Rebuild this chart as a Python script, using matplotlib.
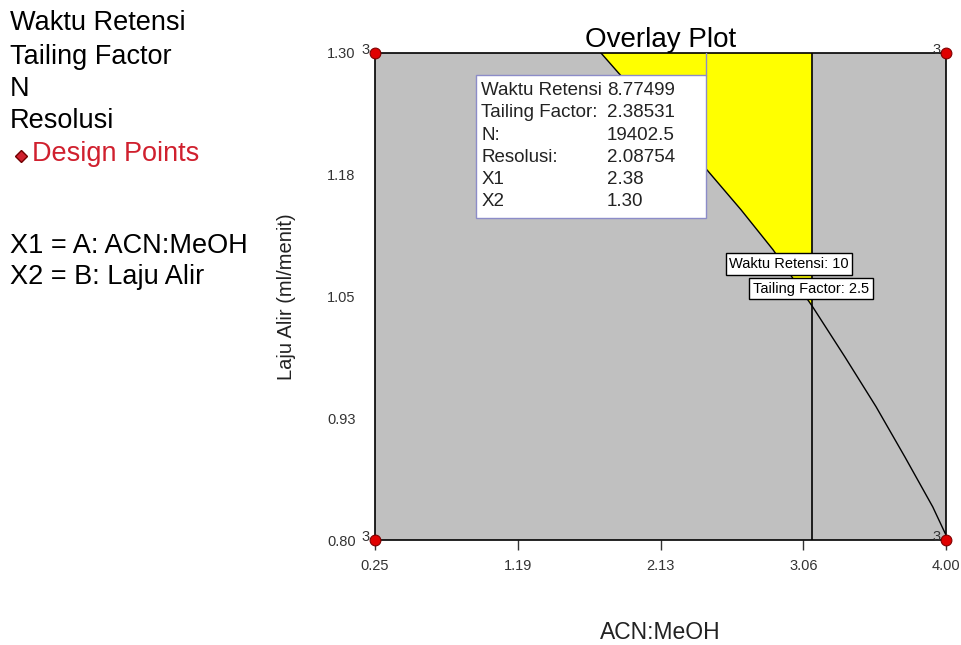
import numpy as np
import matplotlib.pyplot as plt
from matplotlib.patches import Rectangle

plt.rcParams['font.family'] = ['Liberation Sans', 'DejaVu Sans']

# factor ranges
x1_lim = [0.25, 4.00]
x2_lim = [0.80, 1.30]
x_ticks = [0.25, 1.1875, 2.125, 3.0625, 4.00]
x_tick_labels = ["0.25", "1.19", "2.13", "3.06", "4.00"]
y_ticks = [0.80, 0.925, 1.05, 1.175, 1.30]
y_tick_labels = ["0.80", "0.93", "1.05", "1.18", "1.30"]

# design points (4 corners, 3 replicates each)
design_x = [0.25, 4.00, 0.25, 4.00]
design_y = [0.80, 0.80, 1.30, 1.30]
design_n = [3, 3, 3, 3]

# contour: Waktu Retensi = 10
rt_x = [1.734, 1.852, 2.135, 2.430, 2.654, 2.864, 3.126, 3.336, 3.540, 3.731, 3.913, 4.00]
rt_y = [1.300, 1.279, 1.231, 1.180, 1.139, 1.098, 1.039, 0.988, 0.937, 0.885, 0.834, 0.805]
# contour: Tailing Factor = 2.5 (vertical)
tf_x = 3.12

# flagged point
flag_names = ["Waktu Retensi", "Tailing Factor:", "N:", "Resolusi:", "X1", "X2"]
flag_values = ["8.77499", "2.38531", "19402.5", "2.08754", "2.38", "1.30"]

fig = plt.figure(figsize=(9.61, 6.45), dpi=100)
ax = fig.add_axes([375/961, 1-540/645, 571/961, 487/645])
ax.set_facecolor('#c0c0c0')
ax.set_xlim(x1_lim)
ax.set_ylim(x2_lim)

# sweet spot: right of the RT contour, left of the TF contour
cx = np.array(rt_x)
cy = np.array(rt_y)
keep = cx <= tf_x
poly_x = list(cx[keep]) + [tf_x, tf_x]
poly_y = list(cy[keep]) + [np.interp(tf_x, cx, cy), x2_lim[1]]
ax.fill(poly_x, poly_y, color='#ffff00', zorder=1, lw=0)

ax.plot(rt_x, rt_y, color='black', lw=1, zorder=2)
ax.axvline(tf_x, color='black', lw=1.2, zorder=2)

for s in ax.spines.values():
    s.set_linewidth(1.2)

ax.set_xticks(x_ticks)
ax.set_xticklabels(x_tick_labels)
ax.set_yticks(y_ticks)
ax.set_yticklabels(y_tick_labels)
ax.tick_params(direction='out', length=7, width=1, labelsize=10.5, colors='#333333', pad=7)
ax.tick_params(axis='y', length=0, pad=14)

ax.set_xlabel("ACN:MeOH", fontsize=16.5, labelpad=34, color='#222222')
ax.set_ylabel("Laju Alir (ml/menit)", fontsize=14.5, labelpad=22, color='#222222')
ax.set_title("Overlay Plot", fontsize=20, pad=4)

ax.scatter(design_x, design_y, s=60, color='#e00000', edgecolor='#800000',
           lw=0.8, zorder=6, clip_on=False)
for dx, dy, n in zip(design_x, design_y, design_n):
    ax.annotate(str(n), (dx, dy), xytext=(-4, 2), textcoords='offset points',
                ha='right', va='center', fontsize=10.5, color='#333333', zorder=6)

# flag box
ax.add_patch(Rectangle((0.177, 0.661), 0.580 - 0.177, 0.955 - 0.661,
                       transform=ax.transAxes, facecolor='white',
                       edgecolor='#8c8cc8', lw=1, zorder=4))
ax.plot([0.580, 0.580], [0.955, 1.0], transform=ax.transAxes,
        color='#8c8cc8', lw=1, zorder=4)
for i, (nm, val) in enumerate(zip(flag_names, flag_values)):
    yy = 0.922 - i * 0.0452
    ax.text(0.186, yy, nm, transform=ax.transAxes, fontsize=13.5,
            va='center', zorder=5, color='#222222')
    ax.text(0.406, yy, val, transform=ax.transAxes, fontsize=13.5,
            va='center', zorder=5, color='#222222')

# contour labels
lbl = dict(fontsize=10.5, ha='center', va='center', zorder=5,
           bbox=dict(boxstyle='square,pad=0.25', facecolor='white', edgecolor='black', lw=1))
ax.text(2.969, 1.0834, "Waktu Retensi: 10", **lbl)
ax.text(3.113, 1.0582, "Tailing Factor: 2.5", **lbl)

# left-side legend
fs = 19.5
fig.text(10/961, 1-23/645, "Waktu Retensi", fontsize=fs, va='center')
fig.text(10/961, 1-57/645, "Tailing Factor", fontsize=fs, va='center')
fig.text(10/961, 1-89/645, "N", fontsize=fs, va='center')
fig.text(10/961, 1-121/645, "Resolusi", fontsize=fs, va='center')
fig.text(32/961, 1-154/645, "Design Points", fontsize=fs, va='center', color='#d0202e')
fig.lines.append(plt.Line2D([21/961], [1-156/645], marker='D', markersize=6,
                            color='#d0202e', markeredgecolor='#700000',
                            transform=fig.transFigure))
fig.text(10/961, 1-246/645, "X1 = A: ACN:MeOH", fontsize=fs, va='center')
fig.text(10/961, 1-277/645, "X2 = B: Laju Alir", fontsize=fs, va='center')

fig.savefig("out.png", dpi=100)
